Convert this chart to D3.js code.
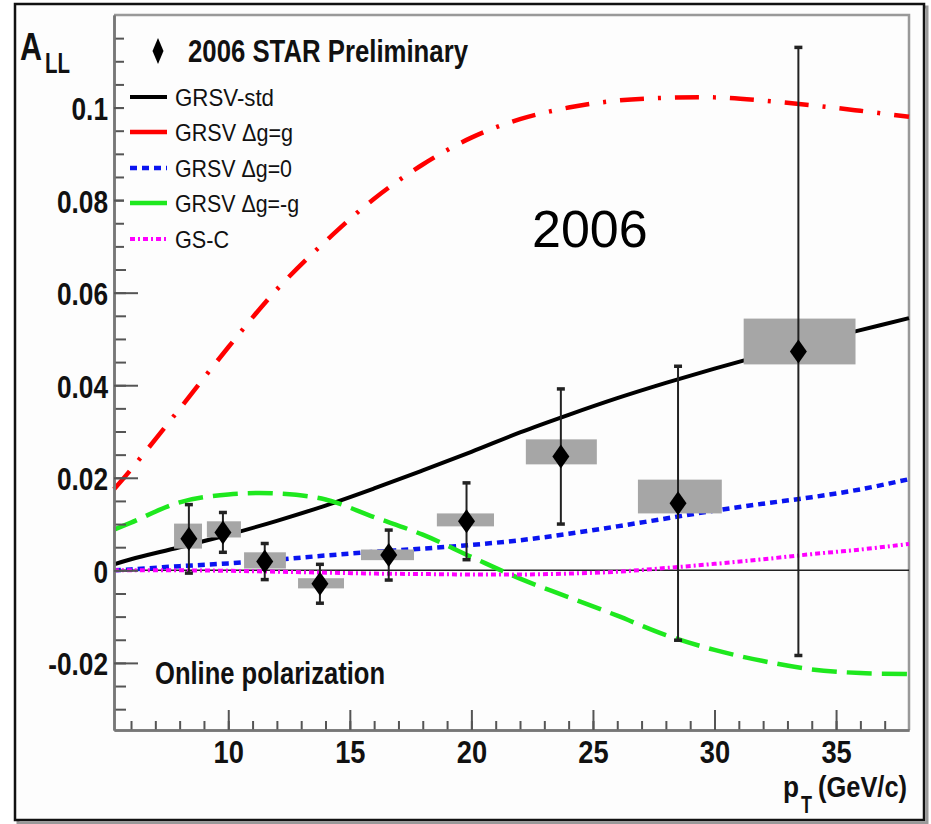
<!DOCTYPE html>
<html>
<head>
<meta charset="utf-8">
<script src="https://cdn.jsdelivr.net/npm/d3@7"></script>
<style>
  html, body { margin: 0; padding: 0; background: #fff; }
  svg { display: block; font-family: "Liberation Sans", Arial, sans-serif; }
</style>
</head>
<body>
<svg id="chart"></svg>
<script>
"use strict";

// theory curves on a common pT grid
var pT = [5.3, 6, 8, 10, 12, 14, 16, 18, 20, 22, 24, 26, 28, 30, 32, 34, 36, 38];
var grsvStd  = [0.0013, 0.0024, 0.0050, 0.0077, 0.0107, 0.0140, 0.0177, 0.0216, 0.0256, 0.0298, 0.0336, 0.0372, 0.0405, 0.0436, 0.0465, 0.0493, 0.0519, 0.0545];
var grsvMax  = [0.0175, 0.0218, 0.0349, 0.0482, 0.0607, 0.0711, 0.0803, 0.0877, 0.0935, 0.0975, 0.1000, 0.1015, 0.1021, 0.1022, 0.1015, 0.1005, 0.0993, 0.0980];
var grsvZero = [0.0000, 0.0002, 0.0009, 0.0015, 0.0023, 0.0032, 0.0040, 0.0047, 0.0055, 0.0065, 0.0079, 0.0095, 0.0112, 0.0129, 0.0144, 0.0158, 0.0175, 0.0197];
var grsvMin  = [0.0088, 0.0103, 0.0147, 0.0164, 0.0166, 0.0153, 0.0115, 0.0077, 0.0029, -0.0018, -0.0058, -0.0098, -0.0140, -0.0172, -0.0196, -0.0214, -0.0222, -0.0224];
var gsc      = [0.0000, 0.0000, 0.0000, -0.0001, -0.0003, -0.0005, -0.0007, -0.0008, -0.0009, -0.0009, -0.0007, -0.0003, 0.0005, 0.0014, 0.0024, 0.0035, 0.0045, 0.0057];

// 2006 STAR preliminary points
var ptVals  = [8.38, 9.78, 11.5, 13.77, 16.6, 19.8, 23.68, 28.5, 33.45];
var allVals = [0.0068, 0.0082, 0.0019, -0.0029, 0.0033, 0.0106, 0.0246, 0.0145, 0.0473];
var statErr = [0.0074, 0.0043, 0.0039, 0.0042, 0.0054, 0.0083, 0.0146, 0.0296, 0.0657];
var sysLo   = [0.0047, 0.0071, 0.0004, -0.0039, 0.0022, 0.0095, 0.0229, 0.0123, 0.0445];
var sysHi   = [0.0101, 0.0106, 0.0039, -0.0017, 0.0045, 0.0123, 0.0283, 0.0196, 0.0544];
var binLo   = [7.77, 9.12, 10.65, 12.87, 15.46, 18.58, 22.24, 26.85, 31.2];
var binHi   = [8.92, 10.52, 12.37, 14.76, 17.64, 20.93, 25.16, 30.3, 35.8];

var xTicks = [10, 15, 20, 25, 30, 35];
var yTicks = [-0.02, 0, 0.02, 0.04, 0.06, 0.08, 0.1];

var legendNames = ["GRSV-std", "GRSV \u0394g=g", "GRSV \u0394g=0", "GRSV \u0394g=-g", "GS-C"];

var width = 931, height = 824;
var plotL = 114, plotR = 909, plotT = 15, plotB = 730;

var svg = d3.select('#chart').attr('width', width).attr('height', height);

var x = d3.scaleLinear().domain([5.3, 38]).range([plotL, plotR]);
var y = d3.scaleLinear().domain([-0.0345, 0.12]).range([plotB, plotT]);

// outer frame with shadow
svg.append('rect').attr('x', 18).attr('y', 7).attr('width', 909).attr('height', 816)
    .attr('fill', 'none').attr('stroke', '#999').attr('stroke-width', 3);
svg.append('rect').attr('x', 15).attr('y', 4).attr('width', 909).attr('height', 816)
    .attr('fill', '#fdfdfd').attr('stroke', '#111').attr('stroke-width', 2.5);

// plot frame (top / right)
svg.append('path')
    .attr('d', `M${plotL},${plotT}H${plotR}V${plotB}`)
    .attr('fill', 'none').attr('stroke', '#999').attr('stroke-width', 2.5);

// zero line
svg.append('line')
    .attr('x1', plotL).attr('x2', plotR)
    .attr('y1', y(0)).attr('y2', y(0))
    .attr('stroke', '#222').attr('stroke-width', 1.5);

var curves = [
    { name: legendNames[0], vals: grsvStd,  color: '#000',    dash: null,          w: 4 },
    { name: legendNames[1], vals: grsvMax,  color: '#ff0000', dash: '24,14,3,14',  w: 4.5 },
    { name: legendNames[2], vals: grsvZero, color: '#0a14f0', dash: '7,5',         w: 4.5 },
    { name: legendNames[3], vals: grsvMin,  color: '#1ee81e', dash: '25,10',       w: 4.5 },
    { name: legendNames[4], vals: gsc,      color: '#ff00ff', dash: '5,3,2,3',     w: 4 }
];

var line = d3.line()
    .x(d => x(d[0]))
    .y(d => y(d[1]))
    .curve(d3.curveCatmullRom);

svg.append('g').attr('class', 'curves')
    .selectAll('path')
    .data(curves)
    .enter()
    .append('path')
        .attr('d', c => line(pT.map((p, i) => [p, c.vals[i]])))
        .attr('fill', 'none')
        .attr('stroke', c => c.color)
        .attr('stroke-width', c => c.w)
        .attr('stroke-dasharray', c => c.dash);

var points = ptVals.map((p, i) => ({
    pt: p, a: allVals[i], err: statErr[i],
    lo: sysLo[i], hi: sysHi[i], b0: binLo[i], b1: binHi[i]
}));

// systematic boxes
svg.append('g').selectAll('rect')
    .data(points)
    .enter()
    .append('rect')
        .attr('x', d => x(d.b0))
        .attr('width', d => x(d.b1) - x(d.b0))
        .attr('y', d => y(d.hi))
        .attr('height', d => y(d.lo) - y(d.hi))
        .attr('fill', '#a6a6a6');

// error bars
var bars = svg.append('g').selectAll('g')
    .data(points)
    .enter()
    .append('g')
        .attr('stroke', '#222');

bars.append('line')
    .attr('x1', d => x(d.pt)).attr('x2', d => x(d.pt))
    .attr('y1', d => y(d.a + d.err)).attr('y2', d => y(d.a - d.err))
    .attr('stroke-width', 2);

bars.selectAll('.cap')
    .data(d => [[d.pt, d.a + d.err], [d.pt, d.a - d.err]])
    .enter()
    .append('line')
        .attr('class', 'cap')
        .attr('x1', d => x(d[0]) - 4).attr('x2', d => x(d[0]) + 4)
        .attr('y1', d => y(d[1])).attr('y2', d => y(d[1]))
        .attr('stroke-width', 3.5);

function diamond(cx, cy, w, h) {
    return `M${cx},${cy - h}L${cx + w},${cy}L${cx},${cy + h}L${cx - w},${cy}Z`;
}

svg.append('g').selectAll('path')
    .data(points)
    .enter()
    .append('path')
        .attr('d', d => diamond(x(d.pt), y(d.a), 8.5, 12))
        .attr('fill', '#000');

// axes
function styleAxis(g) {
    g.select('.domain').attr('stroke', '#777').attr('stroke-width', 2.5);
    g.selectAll('.tick line').attr('stroke', '#555').attr('stroke-width', 2);
}

var yMinor = d3.range(-6, 24).map(i => i * 0.005);
var xMinor = d3.range(6, 38);

svg.append('g')
    .attr('transform', `translate(${plotL},0)`)
    .call(d3.axisLeft(y).tickValues(yMinor).tickSize(-12).tickSizeOuter(0).tickFormat(''))
    .call(styleAxis);

var yAxis = svg.append('g')
    .attr('transform', `translate(${plotL},0)`)
    .call(d3.axisLeft(y).tickValues(yTicks).tickSize(-24).tickSizeOuter(0).tickPadding(6).tickFormat(d => String(d)))
    .call(styleAxis);

svg.append('g')
    .attr('transform', `translate(0,${plotB})`)
    .call(d3.axisBottom(x).tickValues(xMinor).tickSize(-9).tickSizeOuter(0).tickFormat(''))
    .call(styleAxis);

var xAxis = svg.append('g')
    .attr('transform', `translate(0,${plotB})`)
    .call(d3.axisBottom(x).tickValues(xTicks).tickSize(-20).tickSizeOuter(0).tickPadding(11))
    .call(styleAxis);

yAxis.selectAll('text')
    .attr('font-family', '"Liberation Sans", Arial, sans-serif')
    .attr('font-size', 32).attr('font-weight', 'bold').attr('fill', '#111')
    .attr('dy', 12)
    .each(function() {
        var w = this.getComputedTextLength();
        d3.select(this).attr('textLength', w * 0.82).attr('lengthAdjust', 'spacingAndGlyphs');
    });

xAxis.selectAll('text')
    .attr('font-family', '"Liberation Sans", Arial, sans-serif')
    .attr('font-size', 31).attr('font-weight', 'bold').attr('fill', '#111')
    .each(function() {
        var w = this.getComputedTextLength();
        d3.select(this).attr('textLength', w * 0.88).attr('lengthAdjust', 'spacingAndGlyphs');
    });

// legend
var legend = svg.append('g');
legend.append('rect')
    .attr('x', 124).attr('y', 20).attr('width', 186).attr('height', 236)
    .attr('fill', '#fdfdfd');

function text(g, str, tx, ty, size, weight, tw, anchor) {
    var t = g.append('text')
        .attr('x', tx).attr('y', ty)
        .attr('font-size', size)
        .attr('font-weight', weight)
        .attr('text-anchor', anchor || 'start')
        .attr('fill', '#111')
        .text(str);
    if (tw) t.attr('textLength', tw).attr('lengthAdjust', 'spacingAndGlyphs');
    return t;
}

legend.append('path')
    .attr('d', diamond(158, 51, 5.5, 13))
    .attr('fill', '#000');
text(legend, '2006 STAR Preliminary', 188, 62, 31, 'bold', 280);

var rowY = [97, 132, 168, 203, 239];
var textW = [99, 118, 117, 124, 54];

var rows = legend.selectAll('.row')
    .data(curves)
    .enter()
    .append('g')
        .attr('class', 'row');

rows.append('line')
    .attr('x1', 130).attr('x2', 167)
    .attr('y1', (c, i) => rowY[i]).attr('y2', (c, i) => rowY[i])
    .attr('stroke', c => c.color)
    .attr('stroke-width', c => c.w)
    .attr('stroke-dasharray', (c, i) => i === 1 || i === 3 ? null : c.dash);

rows.each(function(c, i) {
    text(d3.select(this), c.name, 175, rowY[i] + 9, 24, 'normal', textW[i]);
});

// labels
text(svg, 'A', 20, 60, 38, 'bold', 22);
text(svg, 'LL', 45, 73, 30, 'bold', 25);
text(svg, 'p', 783, 797, 29, 'bold', 16);
text(svg, 'T', 801, 813, 24, 'bold', 11);
text(svg, '(GeV/c)', 818, 797, 29, 'bold', 89);
text(svg, 'Online polarization', 155, 684, 31, 'bold', 230);
text(svg, '2006', 532, 247, 52, 'normal', null).attr('fill', '#000');
</script>
</body>
</html>
